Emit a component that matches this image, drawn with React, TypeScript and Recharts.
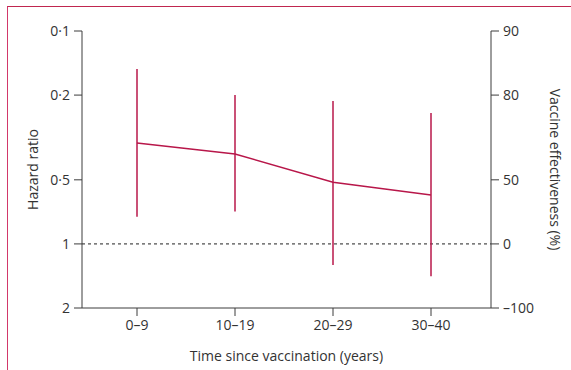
import React from 'react';
import {
  LineChart,
  Line,
  XAxis,
  YAxis,
  ErrorBar,
  ReferenceLine,
} from 'recharts';

// Hazard ratio per decade since vaccination, with 95% CI bounds
const periods = ['0–9', '10–19', '20–29', '30–40'];
const hazardRatio = [0.336, 0.378, 0.513, 0.589];
const ciLow = [0.151, 0.2, 0.213, 0.243];
const ciHigh = [0.745, 0.705, 1.255, 1.42];
const hrTicks = [0.1, 0.2, 0.5, 1, 2];

const RED = '#b8174a';
const AXIS = '#3c3c3c';
const FONT = '"Open Sans", sans-serif';
const FS = 14;

const data = periods.map((period, i) => ({
  period,
  hr: hazardRatio[i],
  err: [hazardRatio[i] - ciLow[i], ciHigh[i] - hazardRatio[i]],
}));

const fmtHR = (v: number) => String(v).replace('.', '·');
const fmtVE = (v: number) => {
  const ve = Math.round((1 - v) * 100);
  return ve < 0 ? `–${Math.abs(ve)}` : String(ve);
};

const tickStyle = { fill: '#333', fontSize: FS, fontFamily: FONT };

export default function App() {
  return (
    <div style={{ position: 'absolute', left: 0, top: 0, width: 571, height: 370, background: '#fff' }}>
      {/* journal-style frame */}
      <div
        style={{
          position: 'absolute',
          left: 7,
          top: 6,
          right: 0,
          bottom: 0,
          borderTop: '1.5px solid #c0264f',
          borderLeft: '1.5px solid #d2386a',
        }}
      />
      <LineChart
        width={571}
        height={370}
        data={data}
        margin={{ top: 31, right: 0, bottom: 0, left: 0 }}
        style={{ position: 'absolute', left: 0, top: 0 }}
      >
        <XAxis
          dataKey="period"
          scale="point"
          padding={{ left: 55, right: 60 }}
          height={62}
          stroke={AXIS}
          tickSize={8}
          tickMargin={4}
          tick={tickStyle}
          label={{
            value: 'Time since vaccination (years)',
            position: 'insideBottom',
            offset: 9,
            style: { fill: '#333', fontSize: FS, fontFamily: FONT },
          }}
        />
        <YAxis
          yAxisId="hr"
          width={82}
          scale="log"
          domain={[0.1, 2]}
          reversed
          ticks={hrTicks}
          tickFormatter={fmtHR}
          allowDataOverflow
          stroke={AXIS}
          tickSize={8}
          tickMargin={4}
          tick={tickStyle}
          label={({ viewBox }: any) => {
            const x = viewBox.x + 38;
            const y = viewBox.y + viewBox.height / 2;
            return (
              <text
                x={x}
                y={y}
                transform={`rotate(-90, ${x}, ${y})`}
                textAnchor="middle"
                style={{ fill: '#333', fontSize: FS, fontFamily: FONT }}
              >
                Hazard ratio
              </text>
            );
          }}
        />
        <YAxis
          yAxisId="ve"
          orientation="right"
          width={80}
          scale="log"
          domain={[0.1, 2]}
          reversed
          ticks={hrTicks}
          tickFormatter={fmtVE}
          allowDataOverflow
          stroke={AXIS}
          tickSize={8}
          tickMargin={4}
          tick={tickStyle}
          label={({ viewBox }: any) => {
            const x = viewBox.x + 59;
            const y = viewBox.y + viewBox.height / 2;
            return (
              <text
                x={x}
                y={y}
                transform={`rotate(90, ${x}, ${y})`}
                textAnchor="middle"
                style={{ fill: '#333', fontSize: FS, fontFamily: FONT }}
              >
                Vaccine effectiveness (%)
              </text>
            );
          }}
        />
        <ReferenceLine yAxisId="hr" y={1} stroke="#222" strokeDasharray="3 3" />
        <Line
          yAxisId="hr"
          dataKey="hr"
          type="linear"
          stroke={RED}
          strokeWidth={1.5}
          dot={false}
          isAnimationActive={false}
        >
          <ErrorBar dataKey="err" direction="y" width={0} stroke={RED} strokeWidth={1.5} isAnimationActive={false} />
        </Line>
        <Line
          yAxisId="ve"
          dataKey="hr"
          stroke="none"
          dot={false}
          activeDot={false}
          legendType="none"
          isAnimationActive={false}
        />
      </LineChart>
    </div>
  );
}
